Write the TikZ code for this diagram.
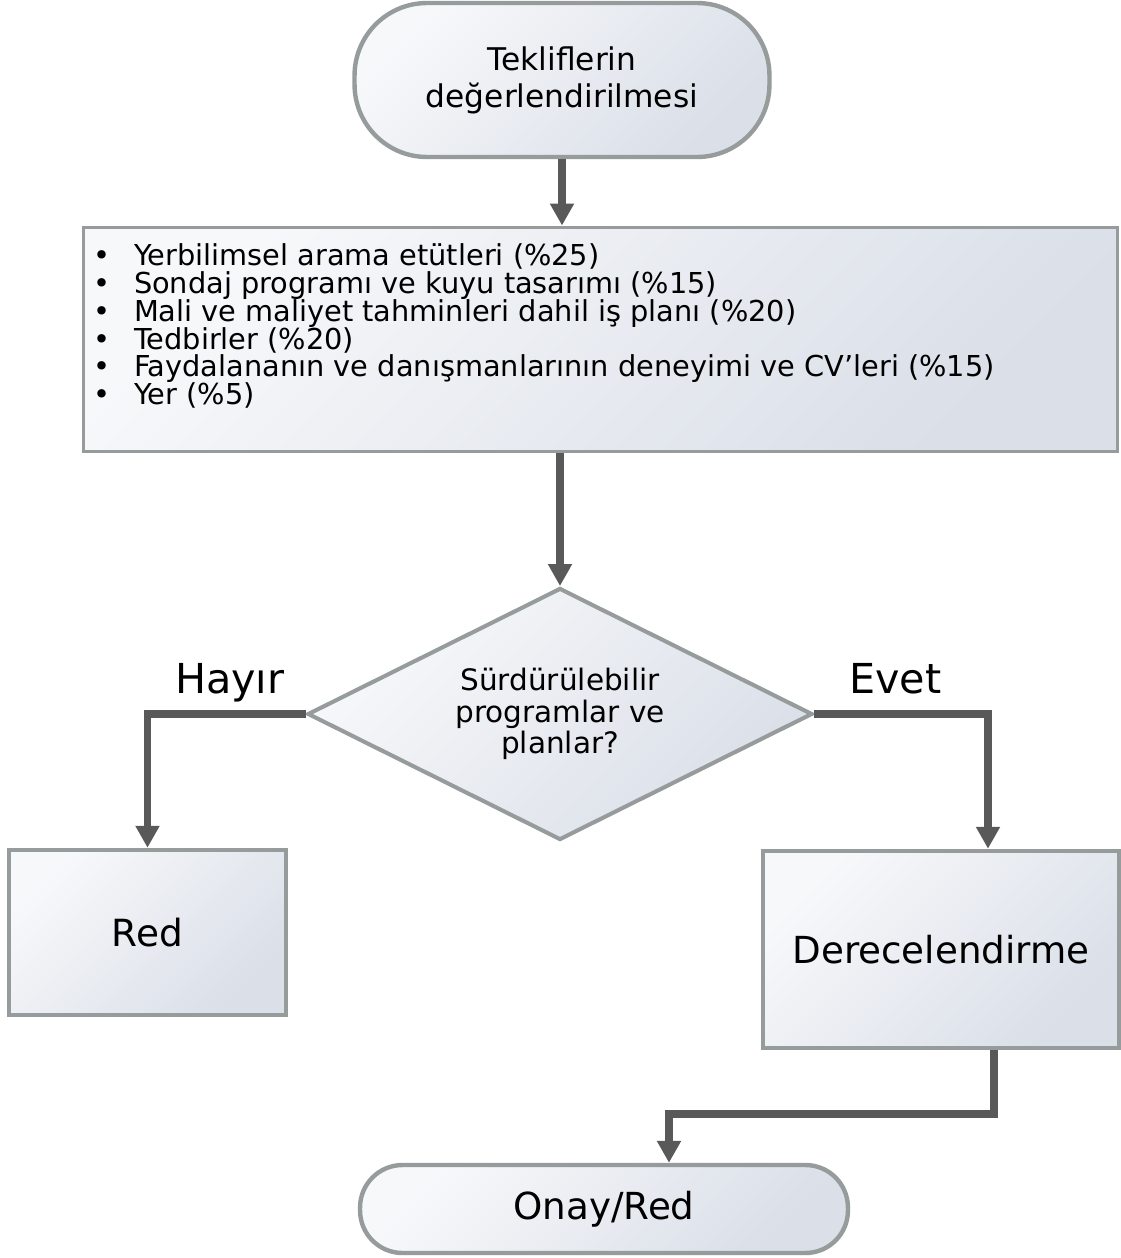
\documentclass[tikz,border=0pt]{standalone}
\usepackage{fontspec}
\setmainfont{DejaVu Sans}
\usetikzlibrary{shapes.geometric}
\usetikzlibrary{arrows.meta}
\setlength{\lineskiplimit}{-20pt}

\definecolor{edgegray}{RGB}{150,155,155}
\definecolor{flowgray}{RGB}{89,89,89}
\definecolor{shadelight}{RGB}{247,248,250}
\definecolor{shadedark}{RGB}{218,223,232}

\tikzset{
  shaded/.style={top color=shadelight, bottom color=shadedark, shading angle=45, draw=edgegray},
  terminal/.style={shaded, rectangle, rounded corners=1.45cm, line width=2.5pt, align=center},
  box/.style={shaded, rectangle, line width=2.6pt, align=center},
  decision/.style={shaded, diamond, aspect=2, line width=2.3pt, align=center, inner sep=0pt},
  flow/.style={draw=flowgray, line width=4.5pt, -{Triangle[width=13pt,length=12.5pt]}},
  lbl/.style={anchor=base, yshift=11.4pt, inner sep=0pt, font=\fontsize{23.5}{28}\selectfont}
}

\begin{document}
\begin{tikzpicture}[x=0.02cm, y=-0.02cm]
        \useasboundingbox (0,0) rectangle (1120,1258);
        \node[terminal, minimum width=8.3cm, minimum height=3.08cm, font=\fontsize{17.8}{21}\selectfont] (start) at (562,80) {Tekliflerin\\değerlendirilmesi};
        \node[box, line width=1.7pt, minimum width=20.7cm, minimum height=4.5cm] (crit) at (600.5,339.5) {};
        \node[anchor=north west, align=left, inner sep=0pt, font=\fontsize{16.4}{15.8}\selectfont] (items) at ([shift={(12,18)}]crit.north west) {%
          \makebox[22.8pt][l]{•}Yerbilimsel arama etütleri (\%25)\\
          \makebox[22.8pt][l]{•}Sondaj programı ve kuyu tasarımı (\%15)\\
          \makebox[22.8pt][l]{•}Mali ve maliyet tahminleri dahil iş planı (\%20)\\
          \makebox[22.8pt][l]{•}Tedbirler (\%20)\\
          \makebox[22.8pt][l]{•}Faydalananın ve danışmanlarının deneyimi ve CV’leri (\%15)\\
          \makebox[22.8pt][l]{•}Yer (\%5)};
        \node[decision, minimum width=10.1cm, minimum height=5.04cm, font=\fontsize{16.8}{18}\selectfont] (dec) at (560,714) {Sürdürülebilir\\programlar ve\\planlar?};
        \node[box, minimum width=5.54cm, minimum height=3.3cm, font=\fontsize{21.3}{24}\selectfont] (red) at (147.5,932.5) {Red};
        \node[box, minimum width=7.12cm, minimum height=3.94cm, font=\fontsize{21.2}{24}\selectfont] (dere) at (941,949.5) {Derecelendirme};
        \node[terminal, rounded corners=0.85cm, minimum width=9.76cm, minimum height=1.76cm, font=\fontsize{21.2}{24}\selectfont] (end) at (604,1209) {Onay/Red};
        % connectors
        \draw[flow] (start.south) -- (start.south |- crit.north);
        \draw[flow] (dec.north |- crit.south) -- (dec.north);
        \draw[flow] (dec.west) -| node[lbl, pos=0.24] (no) {Hayır} (red.north);
        \draw[flow] (dec.east) -| node[lbl, pos=0.233] (yes) {Evet} ([shift={(47,0)}]dere.north);
        \draw[flow] ([shift={(53,0)}]dere.south) -- ++(0,64) -| ([shift={(65,0)}]end.north);
\end{tikzpicture}
\end{document}
